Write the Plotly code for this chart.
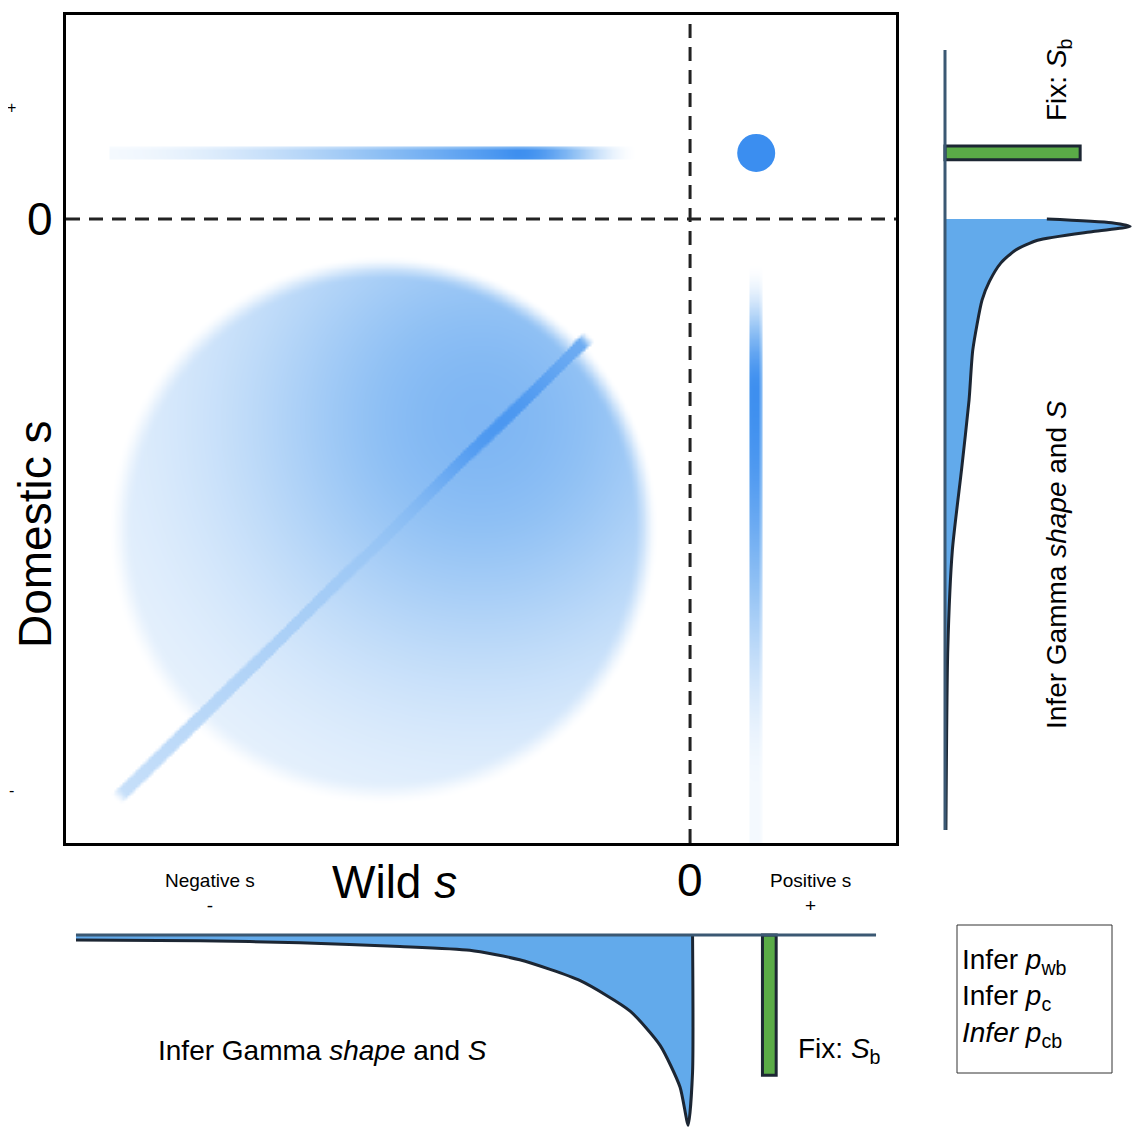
import numpy as np
import plotly.graph_objects as go

FW, FH = 1124, 1122   # figure size (page has an 8px body margin)
OFF = 8
XR = [-1.0, 0.33]
YR = [-1.0, 0.327]

wild_x = [-0.984, -0.785, -0.625, -0.465, -0.353, -0.273, -0.176, -0.096, -0.048, -0.016, -0.003, 0.004, 0.004]
wild_d = [0.026, 0.03, 0.04, 0.06, 0.08, 0.13, 0.24, 0.40, 0.58, 0.80, 1.0, 0.72, 0.0]
dom_y = [0.0, -0.006, -0.012, -0.02, -0.034, -0.05, -0.071, -0.10, -0.13, -0.21, -0.29, -0.40, -0.53, -0.69, -0.979]
dom_d = [0.55, 0.9, 1.0, 0.8, 0.5, 0.38, 0.30, 0.24, 0.20, 0.15, 0.13, 0.09, 0.04, 0.015, 0.005]
sb_wild, sb_wild_h = 0.127, -0.737
sb_dom, sb_dom_w = 0.106, 0.73
dot_x = 0.106

def fx(p): return min(1.0, max(0.0, (p - OFF) / FW))
def fy(p): return min(1.0, max(0.0, 1 - (p - OFF) / FH))
def px_x(x): return 66 + (x - XR[0]) / (XR[1] - XR[0]) * 830
def px_y(y): return 843 - (y - YR[0]) / (YR[1] - YR[0]) * 828

gx = np.linspace(XR[0], XR[1], 320)
gy = np.linspace(YR[0], YR[1], 320)
X, Y = np.meshgrid(gx, gy)
PX, PY = px_x(X), px_y(Y)
def sstep(v): return np.clip(v, 0, 1) ** 2 * (3 - 2 * np.clip(v, 0, 1))
z = np.zeros_like(X)
dist = np.hypot(PX - 383, PY - 530)
dd = np.hypot(PX - 480, PY - 420)
circ = (0.08 + 0.5 * np.exp(-dd**2 / 250**2)) * sstep((275 - dist) / 25)
z = np.maximum(z, circ)
ax0, ay0, ax1, ay1 = 115, 800, 590, 335
L = np.hypot(ax1 - ax0, ay1 - ay0)
t = ((PX - ax0) * (ax1 - ax0) + (PY - ay0) * (ay1 - ay0)) / L**2
perp = np.abs((PX - ax0) * (ay1 - ay0) - (PY - ay0) * (ax1 - ax0)) / L
diag = (0.25 + 0.35 * t + 0.3 * np.exp(-((t - 0.8) / 0.15) ** 2)) * sstep((8 - perp) / 3) * sstep(t / 0.02) * sstep((1 - t) / 0.02)
z = np.maximum(z, diag)
tb = (PX - 112) / (515 - 112)
hint = np.where(PX < 515, 0.05 + 0.85 * np.clip(tb, 0, 1)**1.5, 0.9 * sstep((638 - PX) / 120))
hb = hint * sstep((7.5 - np.abs(PY - 153)) / 3) * (PX >= 110)
z = np.maximum(z, hb)
vint = np.where(PY < 390, 0.9 * sstep((PY - 262) / 128), 0.05 + 0.85 * sstep((790 - PY) / 400))
vb = vint * sstep((7.5 - np.abs(PX - 755)) / 3)
z = np.maximum(z, vb)

fig = go.Figure()
fig.add_trace(go.Heatmap(x=gx, y=gy, z=z, zmin=0, zmax=1, zsmooth="best", showscale=False,
                         colorscale=[[0, "white"], [0.5, "#8fc0f4"], [1, "#2a83ee"]], hoverinfo="skip"))
fig.add_trace(go.Scatter(x=[dot_x], y=[sb_dom], mode="markers",
                         marker=dict(size=38, color="#3b8ef0"), hoverinfo="skip"))
fig.add_trace(go.Scatter(x=[XR[0], XR[1]], y=[0, 0], mode="lines",
                         line=dict(color="#222", width=3, dash="14px,9px")))
fig.add_trace(go.Scatter(x=[0, 0], y=[YR[0], YR[1]], mode="lines",
                         line=dict(color="#222", width=3, dash="14px,9px")))

fig.add_trace(go.Scatter(x=wild_x, y=[-d for d in wild_d], fill="tozeroy", mode="lines",
                         fillcolor="#62aaeb", line=dict(color="#1c2633", width=3, shape="spline", smoothing=0.6),
                         xaxis="x2", yaxis="y2"))
fig.add_trace(go.Scatter(x=[-0.984, 0.298], y=[0, 0], mode="lines",
                         line=dict(color="#3b5873", width=3), xaxis="x2", yaxis="y2"))
fig.add_trace(go.Bar(x=[sb_wild], y=[sb_wild_h], base=0, width=0.022,
                     marker=dict(color="#5aab47", line=dict(color="#1c2633", width=3)),
                     xaxis="x2", yaxis="y2"))
fig.add_trace(go.Scatter(x=dom_d, y=dom_y, fill="tozerox", mode="lines",
                         fillcolor="#62aaeb", line=dict(color="#1c2633", width=3, shape="spline", smoothing=0.6),
                         xaxis="x3", yaxis="y3"))
fig.add_trace(go.Scatter(x=[0, 0], y=[0.271, -0.979], mode="lines",
                         line=dict(color="#3b5873", width=3), xaxis="x3", yaxis="y3"))
fig.add_trace(go.Bar(y=[sb_dom], x=[sb_dom_w], base=0, width=0.022, orientation="h",
                     marker=dict(color="#5aab47", line=dict(color="#1c2633", width=3)),
                     xaxis="x3", yaxis="y3"))

hid = dict(showgrid=False, zeroline=False, showticklabels=False, ticks="")
fig.update_layout(
    width=FW, height=FH, margin=dict(l=0, r=0, t=0, b=0), showlegend=False,
    paper_bgcolor="white", plot_bgcolor="rgba(0,0,0,0)",
    font=dict(family="Liberation Sans, Arial", color="black"),
    xaxis=dict(domain=[fx(66), fx(896)], range=XR, showline=True, mirror=True, linecolor="black", linewidth=3, **hid),
    yaxis=dict(domain=[fy(843), fy(15)], range=YR, showline=True, mirror=True, linecolor="black", linewidth=3, **hid),
    xaxis2=dict(domain=[fx(66), fx(896)], range=XR, anchor="y2", **hid),
    yaxis2=dict(domain=[fy(1129), fy(925)], range=[-1.02, 0.053], anchor="x2", **hid),
    xaxis3=dict(domain=[fx(935), 1.0], range=[-0.054, 1.01], anchor="y3", **hid),
    yaxis3=dict(domain=[fy(843), fy(15)], range=YR, anchor="x3", **hid),
)

def ann(x, y, text, size, **kw):
    fig.add_annotation(x=fx(x), y=fy(y), xref="paper", yref="paper", text=text, showarrow=False,
                       xanchor=kw.pop("xanchor", "center"), yanchor="middle",
                       font=dict(size=size, color="black"), **kw)

ann(40, 219, "0", 46)
ann(11, 107, "+", 16)
ann(11, 790, "-", 16)
ann(35, 535, "Domestic s", 46, textangle=-90)
ann(395, 882, "Wild <i>s</i>", 46)
ann(690, 880, "0", 46)
ann(210, 893, "Negative s<br>-", 19)
ann(810, 893, "Positive s<br>+", 19)
ann(322, 1050, "Infer Gamma <i>shape</i> and <i>S</i>", 28)
ann(840, 1050, "Fix: <i>S</i><sub>b</sub>", 28)
ann(1058, 80, "Fix: <i>S</i><sub>b</sub>", 28, textangle=-90)
ann(1056, 565, "Infer Gamma <i>shape</i> and <i>S</i>", 28, textangle=-90)
ann(960, 998, "Infer <i>p</i><sub>wb</sub><br>Infer <i>p</i><sub>c</sub><br><i>Infer p</i><sub>cb</sub>", 28,
    align="left", xanchor="left")
fig.add_shape(type="rect", xref="paper", yref="paper", x0=fx(957), x1=fx(1112), y0=fy(1073), y1=fy(925),
              line=dict(color="#333", width=1))

fig.write_html("out.html")
